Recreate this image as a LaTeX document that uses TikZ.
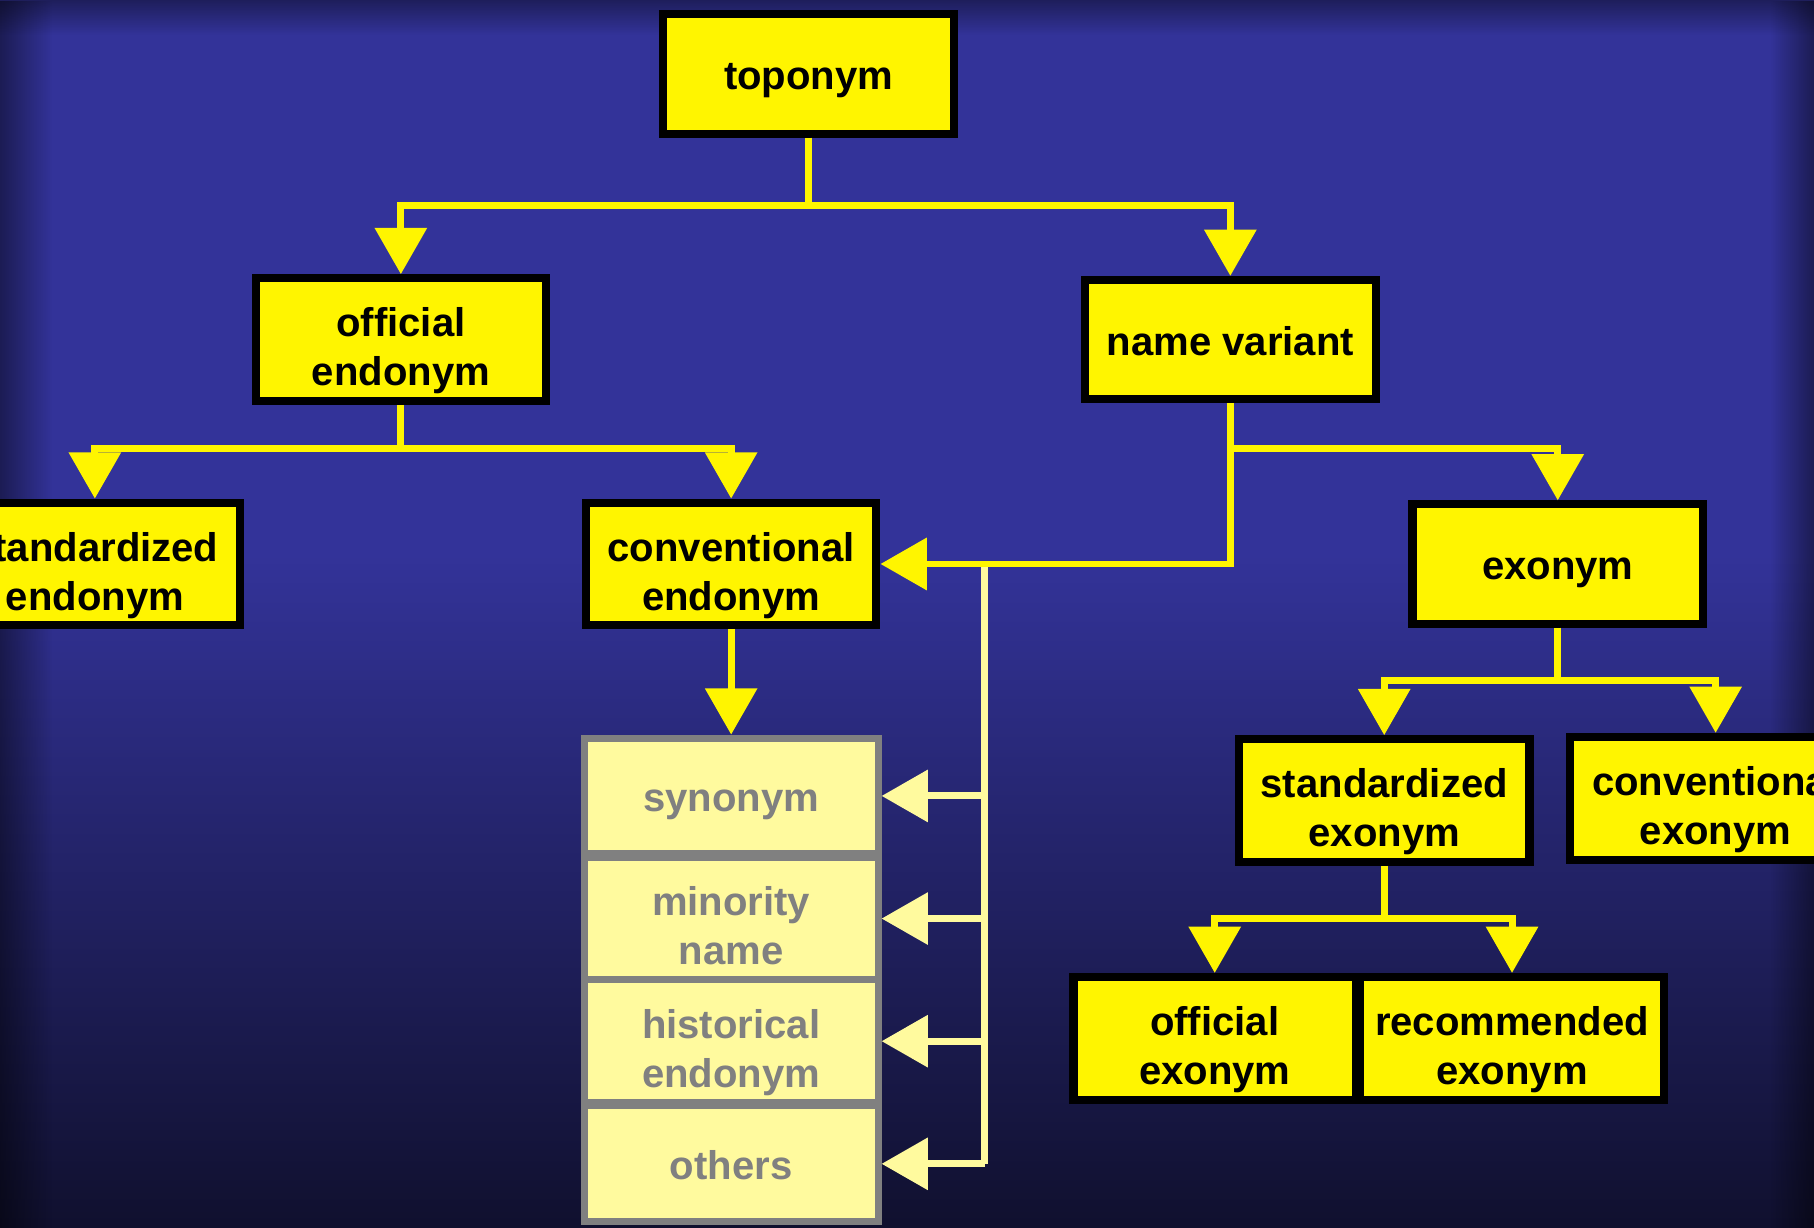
\documentclass[tikz,border=0pt]{standalone}
\usepackage{fontspec}
\setmainfont{Liberation Sans}
\usetikzlibrary{arrows.meta,fadings}
\definecolor{bgblue}{HTML}{333399}
\definecolor{bgdark}{HTML}{10102E}
\definecolor{termyellow}{HTML}{FFF500}
\definecolor{oldyellow}{HTML}{FFFA9E}
\definecolor{oldgrey}{HTML}{808080}
\tikzset{
  term/.style={draw=black, fill=termyellow, line width=0.07cm, inner sep=0pt,
    minimum width=2.51cm, minimum height=1.03cm, align=center,
    font=\fontsize{9.85}{12.1}\selectfont\bfseries,
    text height=0.4cm, text depth=0.13cm},
  twolines/.style={text height=0.93cm},
  oldterm/.style={term, draw=oldgrey, fill=oldyellow, text=oldgrey,
    line width=0.06cm, minimum width=2.54cm, minimum height=1.0cm},
  link/.style={draw=termyellow, line width=0.06cm},
  oldlink/.style={draw=oldyellow, line width=0.06cm}
}
\begin{document}
\begin{tikzpicture}[x=0.01cm, y=-0.01cm, >={Triangle[width=0.44cm,length=0.40cm]}]
  % background
  \useasboundingbox (0,0) rectangle (1568,1061);
  \clip (0,0) rectangle (1568,1061);
  \fill[bgblue] (0,0) rectangle (1568,480);
  \shade[top color=bgblue, bottom color=bgdark] (0,479) rectangle (1568,1061);
  \fill[black, opacity=0.45, path fading=east] (0,0) rectangle (45,1061);
  \fill[black, opacity=0.45, path fading=west] (1530,0) rectangle (1568,1061);
  \fill[black, opacity=0.4, path fading=south] (0,0) rectangle (1568,30);

  % terms
  \node[term] (toponym) at (699,64) {toponym};
  \node[term,twolines] (offendo) at (346.5,293.5) {official\\endonym};
  \node[term] (namevar) at (1063.5,293.5) {name variant};
  \node[term,twolines] (stdendo) at (82,487.5) {standardized\\endonym};
  \node[term,twolines] (convendo) at (632,487.5) {conventional\\endonym};
  \node[term] (exonym) at (1346.5,487.5) {exonym};
  \node[term,twolines] (stdexo) at (1196.5,692) {standardized\\exonym};
  \node[term,twolines] (convexo) at (1483,690) {conventional\\exonym};
  \node[term,twolines, minimum width=2.44cm] (offexo) at (1050,897.5) {official\\exonym};
  \node[term,twolines, minimum width=2.63cm] (recexo) at (1307,897.5) {recommended\\exonym};

  % other endonyms
  \foreach \name/\txt/\lines [count=\i] in {synonym/synonym/, minority/{minority\\name}/twolines,
      historical/{historical\\endonym}/twolines, others/others/}
    \node[oldterm,\lines] (\name) at (632,582+106*\i) {\txt};

  % toponym
  \coordinate (split1) at (699,178);
  \draw[link] (toponym) -- (split1);
  \draw[link,->] (split1) -| (offendo.north);
  \draw[link,->] (split1) -| (namevar.north);

  % official endonym
  \coordinate (split2) at (346.5,388);
  \draw[link] (offendo) -- (split2);
  \draw[link,->] (split2) -| (stdendo.north);
  \draw[link,->] (split2) -| (convendo.north);
  \draw[link,->] (convendo) -- (synonym);

  % other endonyms bus
  \coordinate (bus) at (851,487.5);
  \draw[oldlink] (bus) -- (bus |- others.east);
  \foreach \name in {synonym,minority,historical,others}
    \draw[oldlink,->] (bus |- \name.east) -- (\name.east);

  % name variant
  \draw[link,->] (namevar.south) |- (convendo.east);
  \draw[link,->] (namevar.south |- split2) -| (exonym.north);

  % exonym
  \coordinate (split3) at (1346.5,588);
  \draw[link] (exonym) -- (split3);
  \draw[link,->] (split3) -| (stdexo.north);
  \draw[link,->] (split3) -| (convexo.north);

  % standardized exonym
  \coordinate (split4) at (1196.5,794);
  \draw[link] (stdexo) -- (split4);
  \draw[link,->] (split4) -| (offexo.north);
  \draw[link,->] (split4) -| (recexo.north);
\end{tikzpicture}
\end{document}
